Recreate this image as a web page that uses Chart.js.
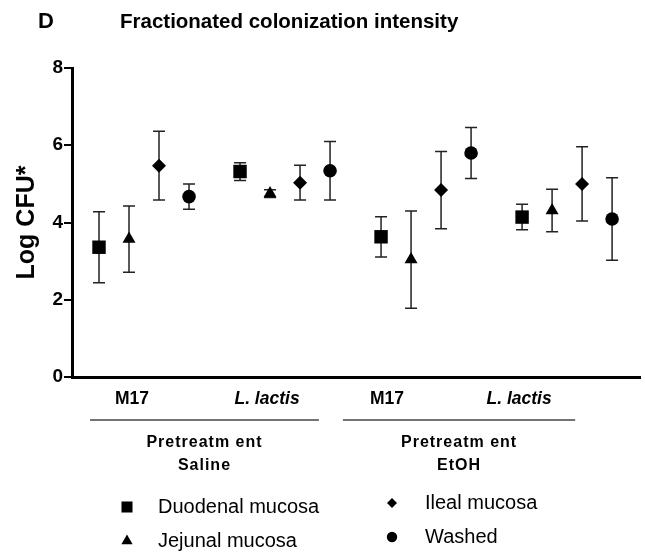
<!DOCTYPE html>
<html>
<head>
<meta charset="utf-8">
<script src="https://cdn.jsdelivr.net/npm/chart.js@4.4.1/dist/chart.umd.min.js"></script>
<style>
  html, body { margin: 0; padding: 0; background: #fff; }
</style>
</head>
<body>
<canvas id="fig" width="645" height="555"></canvas>
<script>
// values (Log CFU, mean and SD)
const groupLabels = ['M17', 'L. lactis', 'M17', 'L. lactis'];
const pretreatments = ['Saline', 'EtOH'];
const seriesNames = ['Duodenal mucosa', 'Jejunal mucosa', 'Ileal mucosa', 'Washed'];

const duodenalMean = [3.36, 5.32, 3.63, 4.14];
const duodenalSd   = [0.92, 0.23, 0.52, 0.33];
const jejunalMean  = [3.57, 4.75, 3.04, 4.31];
const jejunalSd    = [0.86, 0.10, 1.26, 0.55];
const ilealMean    = [5.47, 5.03, 4.84, 5.00];
const ilealSd      = [0.89, 0.45, 1.00, 0.96];
const washedMean   = [4.67, 5.34, 5.80, 4.09];
const washedSd     = [0.33, 0.76, 0.66, 1.07];

const yTicks = [0, 2, 4, 6, 8];

const FONT = '"Liberation Sans", Arial, sans-serif';

// each group takes 4 slots, series side by side
const slotOf = (g, s) => 0.9 + g * 4.7 + s;
const labelSlots = [2.0, 6.5, 10.5, 14.9];

const seriesData = [
    { mean: duodenalMean, sd: duodenalSd, style: 'rect', r: 9.5 },
    { mean: jejunalMean, sd: jejunalSd, style: 'triangle', r: 7.5 },
    { mean: ilealMean, sd: ilealSd, style: 'rectRot', r: 7 },
    { mean: washedMean, sd: washedSd, style: 'circle', r: 6.8 }
];

const datasets = seriesData.map((s, i) => ({
    label: seriesNames[i],
    data: s.mean.map((m, g) => ({ x: slotOf(g, i), y: m, sd: s.sd[g] })),
    pointStyle: s.style,
    pointRadius: s.r,
    pointHoverRadius: s.r,
    pointBackgroundColor: '#000',
    pointBorderColor: '#000',
    pointBorderWidth: 0,
    showLine: false
}));

const errorBars = {
    id: 'errorBars',
    beforeDatasetsDraw(chart) {
        const { ctx, scales: { x, y } } = chart;
        ctx.save();
        ctx.strokeStyle = '#222';
        ctx.lineWidth = 1.5;
        chart.data.datasets.forEach(ds => {
            ds.data.forEach(p => {
                const px = x.getPixelForValue(p.x);
                const top = y.getPixelForValue(p.y + p.sd);
                const bot = y.getPixelForValue(p.y - p.sd);
                ctx.beginPath();
                ctx.moveTo(px, top); ctx.lineTo(px, bot);
                ctx.moveTo(px - 6, top); ctx.lineTo(px + 6, top);
                ctx.moveTo(px - 6, bot); ctx.lineTo(px + 6, bot);
                ctx.stroke();
            });
        });
        ctx.restore();
    }
};

const decorations = {
    id: 'decorations',
    afterDraw(chart) {
        const { ctx, scales: { x } } = chart;
        ctx.save();
        ctx.fillStyle = '#000';
        ctx.textBaseline = 'middle';

        // panel letter + title
        ctx.font = 'bold 22px ' + FONT;
        ctx.textAlign = 'left';
        ctx.fillText('D', 38, 22);
        ctx.font = 'bold 20.5px ' + FONT;
        ctx.fillText('Fractionated colonization intensity', 120, 22);

        // group labels under the axis
        ctx.textAlign = 'center';
        groupLabels.forEach((lab, i) => {
            ctx.font = (i % 2 ? 'italic ' : '') + 'bold 17.5px ' + FONT;
            ctx.fillText(lab, x.getPixelForValue(labelSlots[i]), 399);
        });

        // pretreatment brackets
        const spans = [[0.6, 8.23], [9.03, 16.77]];
        ctx.strokeStyle = '#444';
        ctx.lineWidth = 1.5;
        spans.forEach((sp, i) => {
            const a = x.getPixelForValue(sp[0]);
            const b = x.getPixelForValue(sp[1]);
            ctx.beginPath();
            ctx.moveTo(a, 420); ctx.lineTo(b, 420);
            ctx.stroke();
            const mid = (a + b) / 2;
            ctx.font = 'bold 16px ' + FONT;
            ctx.letterSpacing = '1px';
            ctx.fillText('Pretreatm ent', mid, 443);
            ctx.fillText(pretreatments[i], mid, 466);
            ctx.letterSpacing = '0px';
        });

        // legend, two columns
        const cells = [[127, 158, 507], [127, 158, 541], [392, 425, 503], [392, 425, 537]];
        const legendR = [7.8, 6.5, 5, 5.2];
        ctx.font = '20px ' + FONT;
        ctx.textAlign = 'left';
        chart.data.datasets.forEach((ds, i) => {
            const [mx, tx, ty] = cells[i];
            Chart.helpers.drawPoint(ctx, { pointStyle: ds.pointStyle, rotation: 0, radius: legendR[i], borderWidth: 0 }, mx, ty);
            ctx.fillText(ds.label, tx, ty);
        });
        ctx.restore();
    }
};

new Chart(document.getElementById('fig'), {
    type: 'scatter',
    data: { datasets: datasets },
    options: {
        responsive: false,
        animation: false,
        layout: { autoPadding: false, padding: { top: 68, right: 5, bottom: 178, left: 0 } },
        plugins: {
            legend: { display: false },
            tooltip: { enabled: false }
        },
        scales: {
            x: {
                type: 'linear',
                min: 0,
                max: 18.93,
                afterFit: s => { s.height = 0; },
                grid: { display: false, drawTicks: false },
                border: { display: true, color: '#000', width: 3 },
                ticks: { display: false }
            },
            y: {
                min: 0,
                max: 8,
                afterFit: s => { s.width = 72; },
                afterBuildTicks: s => { s.ticks = yTicks.map(v => ({ value: v })); },
                grid: { display: true, drawOnChartArea: false, drawTicks: true, tickLength: 8, color: '#000', lineWidth: 2 },
                border: { display: true, color: '#000', width: 3 },
                ticks: { color: '#000', padding: 1, font: { family: FONT, size: 19, weight: 'bold' } },
                title: {
                    display: true,
                    text: 'Log CFU*',
                    color: '#000',
                    padding: { top: 12, bottom: 0 },
                    font: { family: FONT, size: 25, weight: 'bold' }
                }
            }
        }
    },
    plugins: [errorBars, decorations]
});
</script>
</body>
</html>
